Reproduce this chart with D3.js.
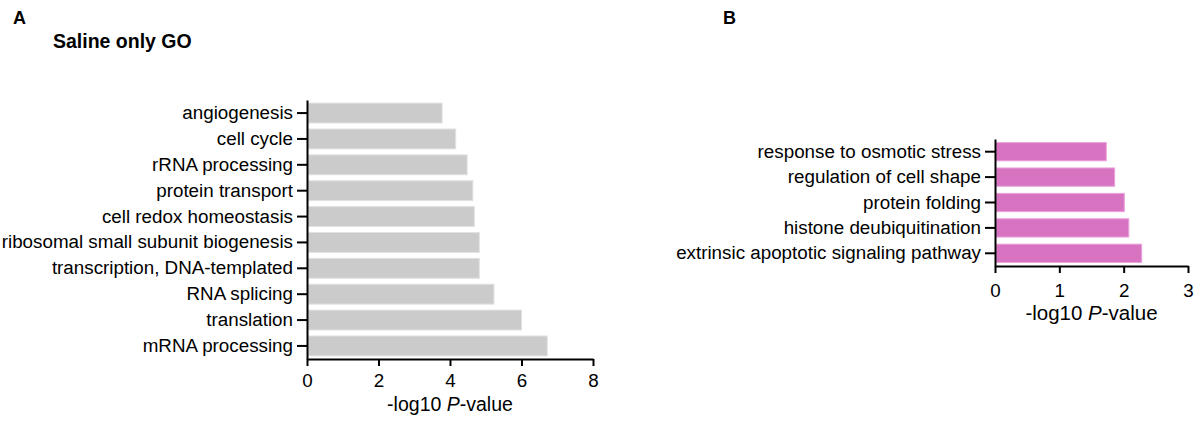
<!DOCTYPE html>
<html>
<head>
<meta charset="utf-8">
<script src="https://cdn.jsdelivr.net/npm/d3@7"></script>
<style>
  body { margin: 0; background: #fff; }
  svg { font-family: "Liberation Sans", Arial, Helvetica, sans-serif; }
  .axis path, .axis line { stroke: #000; stroke-width: 2px; }
  .axis text { fill: #000; font-size: 18.8px; }
</style>
</head>
<body>
<svg id="chart" width="1200" height="422"></svg>
<script>
/* global d3 */

// Panel A: Saline only GO
var termsA = ["angiogenesis", "cell cycle", "rRNA processing", "protein transport",
  "cell redox homeostasis", "ribosomal small subunit biogenesis",
  "transcription, DNA-templated", "RNA splicing", "translation", "mRNA processing"];
var valuesA = [3.78, 4.16, 4.48, 4.64, 4.68, 4.82, 4.82, 5.23, 6.0, 6.72];
var ticksA = [0, 2, 4, 6, 8];

// Panel B
var termsB = ["response to osmotic stress", "regulation of cell shape", "protein folding",
  "histone deubiquitination", "extrinsic apoptotic signaling pathway"];
var valuesB = [1.73, 1.86, 2.01, 2.08, 2.28];
var ticksB = [0, 1, 2, 3];

var svg = d3.select("#chart");

function barPanel(opts) {
  var g = svg.append("g");

  var x = d3.scaleLinear().domain(opts.xDomain).range([opts.left, opts.right]);
  var y = d3.scaleBand()
      .domain(opts.terms)
      .range([opts.top, opts.bottom])
      .paddingInner(opts.padIn)
      .paddingOuter(opts.padOut);

  g.selectAll("rect.bar")
    .data(opts.terms)
    .enter().append("rect")
      .attr("class", "bar")
      .attr("x", x(0) + 1)
      .attr("y", function (d) { return y(d); })
      .attr("width", function (d, i) { return x(opts.values[i]) - x(0) - 1; })
      .attr("height", y.bandwidth())
      .attr("fill", opts.fill)
      .attr("stroke", opts.stroke)
      .attr("stroke-width", 1);

  g.append("g")
      .attr("class", "axis")
      .attr("transform", "translate(" + opts.left + ",0)")
      .call(d3.axisLeft(y).tickSize(10).tickSizeOuter(0).tickPadding(4));

  g.append("g")
      .attr("class", "axis")
      .attr("transform", "translate(0," + opts.bottom + ")")
      .call(d3.axisBottom(x).tickValues(opts.ticks).tickFormat(d3.format("d"))
        .tickSize(7).tickSizeOuter(0).tickPadding(opts.tickPad));

  var title = g.append("text")
      .attr("x", (opts.left + opts.right) / 2)
      .attr("y", opts.titleY)
      .attr("text-anchor", "middle")
      .attr("font-size", opts.titleSize);
  title.append("tspan").text("-log10 ");
  title.append("tspan").attr("font-style", "italic").text("P");
  title.append("tspan").text("-value");
}

barPanel({
  terms: termsA, values: valuesA, ticks: ticksA, xDomain: [0, 8],
  left: 307, right: 593, top: 100, bottom: 359,
  padIn: 0.23, padOut: 0.12, tickPad: 8, titleY: 411, titleSize: "19.5px",
  fill: "#cbcbcb", stroke: "#e2e2e2"
});

barPanel({
  terms: termsB, values: valuesB, ticks: ticksB, xDomain: [0, 3],
  left: 995, right: 1188, top: 139, bottom: 266,
  padIn: 0.28, padOut: 0.14, tickPad: 11, titleY: 320, titleSize: "20.5px",
  fill: "#d873c2", stroke: "#eaa3dc"
});

// panel letters and title
svg.append("text").attr("x", 13).attr("y", 24)
    .attr("font-size", "18px").attr("font-weight", "bold").text("A");
svg.append("text").attr("x", 723).attr("y", 24)
    .attr("font-size", "18px").attr("font-weight", "bold").text("B");
svg.append("text").attr("x", 53).attr("y", 48)
    .attr("font-size", "19.5px").attr("font-weight", "bold").text("Saline only GO");
</script>
</body>
</html>
